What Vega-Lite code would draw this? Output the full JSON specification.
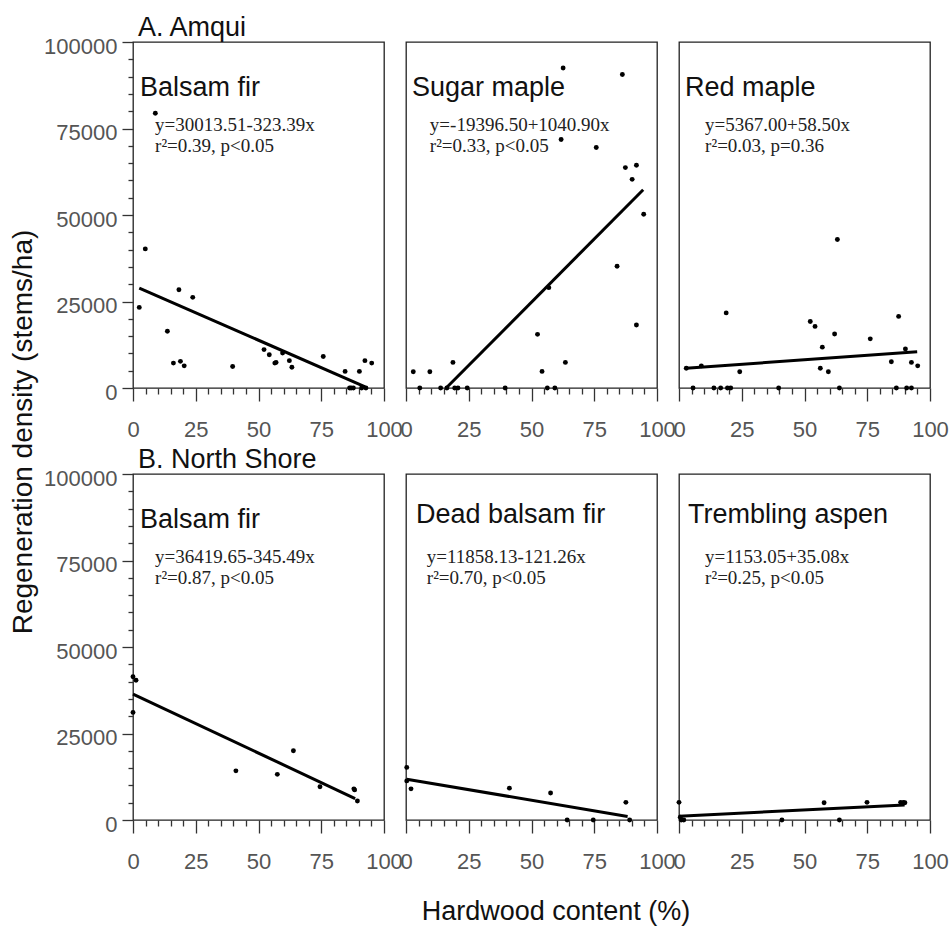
{
  "$schema": "https://vega.github.io/schema/vega-lite/v6.json",
  "background": "white",
  "padding": {"left": 8, "top": 13, "right": 5, "bottom": 5},
  "config": {
    "view": {"stroke": "#222", "strokeWidth": 1.3},
    "axis": {"domain": false, "grid": false, "labelFont": "Liberation Sans", "labelFontSize": 22, "labelColor": "#555", "tickColor": "#333", "tickWidth": 1.3, "labelFlush": false, "labelOverlap": false, "titleFont": "Liberation Sans", "titleFontSize": 27, "titleFontWeight": "normal", "titleColor": "#111"},
    "title": {"font": "Liberation Sans", "fontSize": 27, "fontWeight": "normal", "color": "#111", "anchor": "start", "frame": "group"}
  },
  "datasets": {
    "points": [
      {"p":"A1","x":2.5,"y":23300},{"p":"A1","x":4.9,"y":40200},{"p":"A1","x":8.9,"y":79400},{"p":"A1","x":13.7,"y":16400},{"p":"A1","x":16.1,"y":7200},{"p":"A1","x":18.3,"y":28400},{"p":"A1","x":18.9,"y":7700},{"p":"A1","x":20.4,"y":6400},{"p":"A1","x":23.8,"y":26200},{"p":"A1","x":39.7,"y":6200},{"p":"A1","x":52.2,"y":11100},{"p":"A1","x":54.3,"y":9600},{"p":"A1","x":56.5,"y":7200},{"p":"A1","x":57.0,"y":7400},{"p":"A1","x":59.6,"y":10100},{"p":"A1","x":62.3,"y":7900},{"p":"A1","x":63.3,"y":6000},{"p":"A1","x":75.8,"y":9100},{"p":"A1","x":84.5,"y":4800},{"p":"A1","x":86.3,"y":0},{"p":"A1","x":86.9,"y":0},{"p":"A1","x":87.8,"y":0},{"p":"A1","x":90.2,"y":4800},{"p":"A1","x":91.1,"y":0},{"p":"A1","x":92.4,"y":7900},{"p":"A1","x":92.8,"y":0},{"p":"A1","x":95.1,"y":7200},
      {"p":"A2","x":2.9,"y":4700},{"p":"A2","x":5.5,"y":0},{"p":"A2","x":9.5,"y":4700},{"p":"A2","x":13.8,"y":0},{"p":"A2","x":16.3,"y":0},{"p":"A2","x":18.7,"y":7400},{"p":"A2","x":19.4,"y":0},{"p":"A2","x":20.7,"y":0},{"p":"A2","x":24.4,"y":0},{"p":"A2","x":39.5,"y":0},{"p":"A2","x":52.4,"y":15500},{"p":"A2","x":54.2,"y":4800},{"p":"A2","x":56.3,"y":0},{"p":"A2","x":56.9,"y":29000},{"p":"A2","x":59.3,"y":0},{"p":"A2","x":61.8,"y":71800},{"p":"A2","x":62.6,"y":92500},{"p":"A2","x":63.5,"y":7400},{"p":"A2","x":75.8,"y":69500},{"p":"A2","x":84.1,"y":35200},{"p":"A2","x":86.2,"y":90600},{"p":"A2","x":87.4,"y":63700},{"p":"A2","x":90.1,"y":60300},{"p":"A2","x":91.8,"y":64400},{"p":"A2","x":91.8,"y":18200},{"p":"A2","x":94.7,"y":50200},
      {"p":"A3","x":2.9,"y":5700},{"p":"A3","x":5.6,"y":0},{"p":"A3","x":8.9,"y":6400},{"p":"A3","x":13.9,"y":0},{"p":"A3","x":16.6,"y":0},{"p":"A3","x":18.8,"y":21700},{"p":"A3","x":19.3,"y":0},{"p":"A3","x":20.6,"y":0},{"p":"A3","x":24.2,"y":4700},{"p":"A3","x":39.7,"y":0},{"p":"A3","x":52.3,"y":19200},{"p":"A3","x":54.2,"y":17800},{"p":"A3","x":56.3,"y":5700},{"p":"A3","x":57.1,"y":11800},{"p":"A3","x":59.5,"y":4700},{"p":"A3","x":62.0,"y":15600},{"p":"A3","x":63.1,"y":42900},{"p":"A3","x":63.9,"y":0},{"p":"A3","x":76.2,"y":14200},{"p":"A3","x":84.6,"y":7600},{"p":"A3","x":86.6,"y":0},{"p":"A3","x":87.5,"y":20700},{"p":"A3","x":90.2,"y":11300},{"p":"A3","x":90.7,"y":0},{"p":"A3","x":92.6,"y":0},{"p":"A3","x":92.6,"y":7400},{"p":"A3","x":95.1,"y":6400},
      {"p":"B1","x":0,"y":41400},{"p":"B1","x":1.2,"y":40400},{"p":"B1","x":0,"y":31100},{"p":"B1","x":41.0,"y":14200},{"p":"B1","x":57.5,"y":13200},{"p":"B1","x":63.9,"y":20000},{"p":"B1","x":74.5,"y":9600},{"p":"B1","x":88.0,"y":9000},{"p":"B1","x":88.3,"y":8700},{"p":"B1","x":89.4,"y":5500},
      {"p":"B2","x":0.3,"y":15200},{"p":"B2","x":0.3,"y":11300},{"p":"B2","x":2.0,"y":9000},{"p":"B2","x":41.2,"y":9200},{"p":"B2","x":57.6,"y":7800},{"p":"B2","x":64.2,"y":0},{"p":"B2","x":74.6,"y":0},{"p":"B2","x":87.6,"y":5100},{"p":"B2","x":89.1,"y":0},
      {"p":"B3","x":0,"y":5100},{"p":"B3","x":0.9,"y":0},{"p":"B3","x":1.9,"y":0},{"p":"B3","x":0.5,"y":800},{"p":"B3","x":41.0,"y":0},{"p":"B3","x":57.8,"y":5000},{"p":"B3","x":63.9,"y":0},{"p":"B3","x":74.9,"y":5100},{"p":"B3","x":88.3,"y":5100},{"p":"B3","x":89.4,"y":5100},{"p":"B3","x":90.0,"y":5000}
    ],
    "fits": [
      {"p":"A1","x":2.5,"y":28900},{"p":"A1","x":92.5,"y":300},
      {"p":"A2","x":16.0,"y":0},{"p":"A2","x":94.5,"y":57300},
      {"p":"A3","x":2.8,"y":5700},{"p":"A3","x":94.9,"y":10500},
      {"p":"B1","x":0,"y":36400},{"p":"B1","x":88.5,"y":6200},
      {"p":"B2","x":0.3,"y":11800},{"p":"B2","x":88.3,"y":1000},
      {"p":"B3","x":0,"y":1100},{"p":"B3","x":89.9,"y":4300}
    ],
    "labels": [
      {"p":"A1","species":"Balsam fir","lines":["y=30013.51-323.39x","r²=0.39, p<0.05"]},
      {"p":"A2","species":"Sugar maple","lines":["y=-19396.50+1040.90x","r²=0.33, p<0.05"]},
      {"p":"A3","species":"Red maple","lines":["y=5367.00+58.50x","r²=0.03, p=0.36"]},
      {"p":"B1","species":"Balsam fir","lines":["y=36419.65-345.49x","r²=0.87, p<0.05"]},
      {"p":"B2","species":"Dead balsam fir","lines":["y=11858.13-121.26x","r²=0.70, p<0.05"]},
      {"p":"B3","species":"Trembling aspen","lines":["y=1153.05+35.08x","r²=0.25, p<0.05"]}
    ]
  },
  "columns": 3,
  "spacing": {"row": 86, "column": 22},
  "bounds": "flush",
  "concat": [
    {
      "width": 251, "height": 346,
      "title": {"text": "A. Amqui", "dx": 5, "offset": -28, "baseline": "alphabetic"},
      "layer": [
        {"data": {"name": "points"}, "transform": [{"filter": "datum.p === 'A1'"}], "mark": {"type": "circle", "size": 24, "color": "#000", "opacity": 1},
         "encoding": {
            "x": {"field": "x", "type": "quantitative", "scale": {"domain": [0, 100]}, "axis": {"title": null, "values": [0,5,10,15,20,25,30,35,40,45,50,55,60,65,70,75,80,85,90,95,100], "labelExpr": "datum.value % 25 === 0 ? datum.label : ''", "tickSize": {"condition": {"test": "datum.value % 25 === 0", "value": 13}, "value": 6}, "labelPadding": 18}},
            "y": {"field": "y", "type": "quantitative", "scale": {"domain": [0, 100000]}, "axis": {"title": "Regeneration density (stems/ha)", "titleFontSize": 28, "titleX": -109.5, "titleY": 389.5, "titleBaseline": "middle", "titleAlign": "center", "format": "d", "values": [0,5000,10000,15000,20000,25000,30000,35000,40000,45000,50000,55000,60000,65000,70000,75000,80000,85000,90000,95000,100000], "labelExpr": "datum.value % 25000 === 0 ? datum.label : ''", "tickSize": {"condition": {"test": "datum.value % 25000 === 0", "value": 11}, "value": 5}, "labelPadding": 5, "labelOffset": 4}}
         }},
        {"data": {"name": "fits"}, "transform": [{"filter": "datum.p === 'A1'"}], "mark": {"type": "line", "color": "#000", "strokeWidth": 3},
         "encoding": {
            "x": {"field": "x", "type": "quantitative", "scale": {"domain": [0, 100]}, "axis": {"title": null, "values": [0,5,10,15,20,25,30,35,40,45,50,55,60,65,70,75,80,85,90,95,100], "labelExpr": "datum.value % 25 === 0 ? datum.label : ''", "tickSize": {"condition": {"test": "datum.value % 25 === 0", "value": 13}, "value": 6}, "labelPadding": 18}},
            "y": {"field": "y", "type": "quantitative", "scale": {"domain": [0, 100000]}, "axis": {"title": "Regeneration density (stems/ha)", "titleFontSize": 28, "titleX": -109.5, "titleY": 389.5, "titleBaseline": "middle", "titleAlign": "center", "format": "d", "values": [0,5000,10000,15000,20000,25000,30000,35000,40000,45000,50000,55000,60000,65000,70000,75000,80000,85000,90000,95000,100000], "labelExpr": "datum.value % 25000 === 0 ? datum.label : ''", "tickSize": {"condition": {"test": "datum.value % 25000 === 0", "value": 11}, "value": 5}, "labelPadding": 5, "labelOffset": 4}}
         }},
        {"data": {"name": "labels"}, "transform": [{"filter": "datum.p === 'A1'"}], "mark": {"type": "text", "align": "left", "baseline": "middle", "font": "Liberation Sans", "fontSize": 27, "color": "#111"},
         "encoding": {
            "x": {"datum": 2.8, "type": "quantitative", "scale": {"domain": [0, 100]}, "axis": {"title": null, "values": [0,5,10,15,20,25,30,35,40,45,50,55,60,65,70,75,80,85,90,95,100], "labelExpr": "datum.value % 25 === 0 ? datum.label : ''", "tickSize": {"condition": {"test": "datum.value % 25 === 0", "value": 13}, "value": 6}, "labelPadding": 18}},
            "y": {"datum": 86700, "type": "quantitative", "scale": {"domain": [0, 100000]}, "axis": {"title": "Regeneration density (stems/ha)", "titleFontSize": 28, "titleX": -109.5, "titleY": 389.5, "titleBaseline": "middle", "titleAlign": "center", "format": "d", "values": [0,5000,10000,15000,20000,25000,30000,35000,40000,45000,50000,55000,60000,65000,70000,75000,80000,85000,90000,95000,100000], "labelExpr": "datum.value % 25000 === 0 ? datum.label : ''", "tickSize": {"condition": {"test": "datum.value % 25000 === 0", "value": 11}, "value": 5}, "labelPadding": 5, "labelOffset": 4}},
            "text": {"field": "species"}}},
        {"data": {"name": "labels"}, "transform": [{"filter": "datum.p === 'A1'"}], "mark": {"type": "text", "align": "left", "baseline": "alphabetic", "lineHeight": 21, "font": "Liberation Serif", "fontSize": 19, "color": "#222"},
         "encoding": {
            "x": {"datum": 8.8, "type": "quantitative", "scale": {"domain": [0, 100]}, "axis": {"title": null, "values": [0,5,10,15,20,25,30,35,40,45,50,55,60,65,70,75,80,85,90,95,100], "labelExpr": "datum.value % 25 === 0 ? datum.label : ''", "tickSize": {"condition": {"test": "datum.value % 25 === 0", "value": 13}, "value": 6}, "labelPadding": 18}},
            "y": {"datum": 74300, "type": "quantitative", "scale": {"domain": [0, 100000]}, "axis": {"title": "Regeneration density (stems/ha)", "titleFontSize": 28, "titleX": -109.5, "titleY": 389.5, "titleBaseline": "middle", "titleAlign": "center", "format": "d", "values": [0,5000,10000,15000,20000,25000,30000,35000,40000,45000,50000,55000,60000,65000,70000,75000,80000,85000,90000,95000,100000], "labelExpr": "datum.value % 25000 === 0 ? datum.label : ''", "tickSize": {"condition": {"test": "datum.value % 25000 === 0", "value": 11}, "value": 5}, "labelPadding": 5, "labelOffset": 4}},
            "text": {"field": "lines"}}}
      ]
    },
    {
      "width": 251, "height": 346,
      "layer": [
        {"data": {"name": "points"}, "transform": [{"filter": "datum.p === 'A2'"}], "mark": {"type": "circle", "size": 24, "color": "#000", "opacity": 1},
         "encoding": {
            "x": {"field": "x", "type": "quantitative", "scale": {"domain": [0, 100]}, "axis": {"title": null, "values": [0,5,10,15,20,25,30,35,40,45,50,55,60,65,70,75,80,85,90,95,100], "labelExpr": "datum.value % 25 === 0 ? datum.label : ''", "tickSize": {"condition": {"test": "datum.value % 25 === 0", "value": 13}, "value": 6}, "labelPadding": 18}},
            "y": {"field": "y", "type": "quantitative", "scale": {"domain": [0, 100000]}, "axis": null}}},
        {"data": {"name": "fits"}, "transform": [{"filter": "datum.p === 'A2'"}], "mark": {"type": "line", "color": "#000", "strokeWidth": 3},
         "encoding": {
            "x": {"field": "x", "type": "quantitative", "scale": {"domain": [0, 100]}, "axis": {"title": null, "values": [0,5,10,15,20,25,30,35,40,45,50,55,60,65,70,75,80,85,90,95,100], "labelExpr": "datum.value % 25 === 0 ? datum.label : ''", "tickSize": {"condition": {"test": "datum.value % 25 === 0", "value": 13}, "value": 6}, "labelPadding": 18}},
            "y": {"field": "y", "type": "quantitative", "scale": {"domain": [0, 100000]}, "axis": null}}},
        {"data": {"name": "labels"}, "transform": [{"filter": "datum.p === 'A2'"}], "mark": {"type": "text", "align": "left", "baseline": "middle", "font": "Liberation Sans", "fontSize": 27, "color": "#111"},
         "encoding": {
            "x": {"datum": 2.4, "type": "quantitative", "scale": {"domain": [0, 100]}, "axis": {"title": null, "values": [0,5,10,15,20,25,30,35,40,45,50,55,60,65,70,75,80,85,90,95,100], "labelExpr": "datum.value % 25 === 0 ? datum.label : ''", "tickSize": {"condition": {"test": "datum.value % 25 === 0", "value": 13}, "value": 6}, "labelPadding": 18}},
            "y": {"datum": 86700, "type": "quantitative", "scale": {"domain": [0, 100000]}, "axis": null},
            "text": {"field": "species"}}},
        {"data": {"name": "labels"}, "transform": [{"filter": "datum.p === 'A2'"}], "mark": {"type": "text", "align": "left", "baseline": "alphabetic", "lineHeight": 21, "font": "Liberation Serif", "fontSize": 19, "color": "#222"},
         "encoding": {
            "x": {"datum": 9.5, "type": "quantitative", "scale": {"domain": [0, 100]}, "axis": {"title": null, "values": [0,5,10,15,20,25,30,35,40,45,50,55,60,65,70,75,80,85,90,95,100], "labelExpr": "datum.value % 25 === 0 ? datum.label : ''", "tickSize": {"condition": {"test": "datum.value % 25 === 0", "value": 13}, "value": 6}, "labelPadding": 18}},
            "y": {"datum": 74300, "type": "quantitative", "scale": {"domain": [0, 100000]}, "axis": null},
            "text": {"field": "lines"}}}
      ]
    },
    {
      "width": 251, "height": 346,
      "layer": [
        {"data": {"name": "points"}, "transform": [{"filter": "datum.p === 'A3'"}], "mark": {"type": "circle", "size": 24, "color": "#000", "opacity": 1},
         "encoding": {
            "x": {"field": "x", "type": "quantitative", "scale": {"domain": [0, 100]}, "axis": {"title": null, "values": [0,5,10,15,20,25,30,35,40,45,50,55,60,65,70,75,80,85,90,95,100], "labelExpr": "datum.value % 25 === 0 ? datum.label : ''", "tickSize": {"condition": {"test": "datum.value % 25 === 0", "value": 13}, "value": 6}, "labelPadding": 18}},
            "y": {"field": "y", "type": "quantitative", "scale": {"domain": [0, 100000]}, "axis": null}}},
        {"data": {"name": "fits"}, "transform": [{"filter": "datum.p === 'A3'"}], "mark": {"type": "line", "color": "#000", "strokeWidth": 3},
         "encoding": {
            "x": {"field": "x", "type": "quantitative", "scale": {"domain": [0, 100]}, "axis": {"title": null, "values": [0,5,10,15,20,25,30,35,40,45,50,55,60,65,70,75,80,85,90,95,100], "labelExpr": "datum.value % 25 === 0 ? datum.label : ''", "tickSize": {"condition": {"test": "datum.value % 25 === 0", "value": 13}, "value": 6}, "labelPadding": 18}},
            "y": {"field": "y", "type": "quantitative", "scale": {"domain": [0, 100000]}, "axis": null}}},
        {"data": {"name": "labels"}, "transform": [{"filter": "datum.p === 'A3'"}], "mark": {"type": "text", "align": "left", "baseline": "middle", "font": "Liberation Sans", "fontSize": 27, "color": "#111"},
         "encoding": {
            "x": {"datum": 2.4, "type": "quantitative", "scale": {"domain": [0, 100]}, "axis": {"title": null, "values": [0,5,10,15,20,25,30,35,40,45,50,55,60,65,70,75,80,85,90,95,100], "labelExpr": "datum.value % 25 === 0 ? datum.label : ''", "tickSize": {"condition": {"test": "datum.value % 25 === 0", "value": 13}, "value": 6}, "labelPadding": 18}},
            "y": {"datum": 86700, "type": "quantitative", "scale": {"domain": [0, 100000]}, "axis": null},
            "text": {"field": "species"}}},
        {"data": {"name": "labels"}, "transform": [{"filter": "datum.p === 'A3'"}], "mark": {"type": "text", "align": "left", "baseline": "alphabetic", "lineHeight": 21, "font": "Liberation Serif", "fontSize": 19, "color": "#222"},
         "encoding": {
            "x": {"datum": 10.4, "type": "quantitative", "scale": {"domain": [0, 100]}, "axis": {"title": null, "values": [0,5,10,15,20,25,30,35,40,45,50,55,60,65,70,75,80,85,90,95,100], "labelExpr": "datum.value % 25 === 0 ? datum.label : ''", "tickSize": {"condition": {"test": "datum.value % 25 === 0", "value": 13}, "value": 6}, "labelPadding": 18}},
            "y": {"datum": 74300, "type": "quantitative", "scale": {"domain": [0, 100000]}, "axis": null},
            "text": {"field": "lines"}}}
      ]
    },
    {
      "width": 251, "height": 346,
      "title": {"text": "B. North Shore", "dx": 5, "offset": -28, "baseline": "alphabetic"},
      "layer": [
        {"data": {"name": "points"}, "transform": [{"filter": "datum.p === 'B1'"}], "mark": {"type": "circle", "size": 24, "color": "#000", "opacity": 1},
         "encoding": {
            "x": {"field": "x", "type": "quantitative", "scale": {"domain": [0, 100]}, "axis": {"title": null, "values": [0,5,10,15,20,25,30,35,40,45,50,55,60,65,70,75,80,85,90,95,100], "labelExpr": "datum.value % 25 === 0 ? datum.label : ''", "tickSize": {"condition": {"test": "datum.value % 25 === 0", "value": 13}, "value": 6}, "labelPadding": 18}},
            "y": {"field": "y", "type": "quantitative", "scale": {"domain": [0, 100000]}, "axis": {"title": null, "format": "d", "values": [0,5000,10000,15000,20000,25000,30000,35000,40000,45000,50000,55000,60000,65000,70000,75000,80000,85000,90000,95000,100000], "labelExpr": "datum.value % 25000 === 0 ? datum.label : ''", "tickSize": {"condition": {"test": "datum.value % 25000 === 0", "value": 11}, "value": 5}, "labelPadding": 5, "labelOffset": 4}}}},
        {"data": {"name": "fits"}, "transform": [{"filter": "datum.p === 'B1'"}], "mark": {"type": "line", "color": "#000", "strokeWidth": 3},
         "encoding": {
            "x": {"field": "x", "type": "quantitative", "scale": {"domain": [0, 100]}, "axis": {"title": null, "values": [0,5,10,15,20,25,30,35,40,45,50,55,60,65,70,75,80,85,90,95,100], "labelExpr": "datum.value % 25 === 0 ? datum.label : ''", "tickSize": {"condition": {"test": "datum.value % 25 === 0", "value": 13}, "value": 6}, "labelPadding": 18}},
            "y": {"field": "y", "type": "quantitative", "scale": {"domain": [0, 100000]}, "axis": {"title": null, "format": "d", "values": [0,5000,10000,15000,20000,25000,30000,35000,40000,45000,50000,55000,60000,65000,70000,75000,80000,85000,90000,95000,100000], "labelExpr": "datum.value % 25000 === 0 ? datum.label : ''", "tickSize": {"condition": {"test": "datum.value % 25000 === 0", "value": 11}, "value": 5}, "labelPadding": 5, "labelOffset": 4}}}},
        {"data": {"name": "labels"}, "transform": [{"filter": "datum.p === 'B1'"}], "mark": {"type": "text", "align": "left", "baseline": "middle", "font": "Liberation Sans", "fontSize": 27, "color": "#111"},
         "encoding": {
            "x": {"datum": 2.8, "type": "quantitative", "scale": {"domain": [0, 100]}, "axis": {"title": null, "values": [0,5,10,15,20,25,30,35,40,45,50,55,60,65,70,75,80,85,90,95,100], "labelExpr": "datum.value % 25 === 0 ? datum.label : ''", "tickSize": {"condition": {"test": "datum.value % 25 === 0", "value": 13}, "value": 6}, "labelPadding": 18}},
            "y": {"datum": 86700, "type": "quantitative", "scale": {"domain": [0, 100000]}, "axis": {"title": null, "format": "d", "values": [0,5000,10000,15000,20000,25000,30000,35000,40000,45000,50000,55000,60000,65000,70000,75000,80000,85000,90000,95000,100000], "labelExpr": "datum.value % 25000 === 0 ? datum.label : ''", "tickSize": {"condition": {"test": "datum.value % 25000 === 0", "value": 11}, "value": 5}, "labelPadding": 5, "labelOffset": 4}},
            "text": {"field": "species"}}},
        {"data": {"name": "labels"}, "transform": [{"filter": "datum.p === 'B1'"}], "mark": {"type": "text", "align": "left", "baseline": "alphabetic", "lineHeight": 21, "font": "Liberation Serif", "fontSize": 19, "color": "#222"},
         "encoding": {
            "x": {"datum": 8.8, "type": "quantitative", "scale": {"domain": [0, 100]}, "axis": {"title": null, "values": [0,5,10,15,20,25,30,35,40,45,50,55,60,65,70,75,80,85,90,95,100], "labelExpr": "datum.value % 25 === 0 ? datum.label : ''", "tickSize": {"condition": {"test": "datum.value % 25 === 0", "value": 13}, "value": 6}, "labelPadding": 18}},
            "y": {"datum": 74300, "type": "quantitative", "scale": {"domain": [0, 100000]}, "axis": {"title": null, "format": "d", "values": [0,5000,10000,15000,20000,25000,30000,35000,40000,45000,50000,55000,60000,65000,70000,75000,80000,85000,90000,95000,100000], "labelExpr": "datum.value % 25000 === 0 ? datum.label : ''", "tickSize": {"condition": {"test": "datum.value % 25000 === 0", "value": 11}, "value": 5}, "labelPadding": 5, "labelOffset": 4}},
            "text": {"field": "lines"}}}
      ]
    },
    {
      "width": 251, "height": 346,
      "layer": [
        {"data": {"name": "points"}, "transform": [{"filter": "datum.p === 'B2'"}], "mark": {"type": "circle", "size": 24, "color": "#000", "opacity": 1},
         "encoding": {
            "x": {"field": "x", "type": "quantitative", "scale": {"domain": [0, 100]}, "axis": {"title": "Hardwood content (%)", "titleX": 149.5, "titleY": 99.5, "titleBaseline": "alphabetic", "titleAlign": "center", "values": [0,5,10,15,20,25,30,35,40,45,50,55,60,65,70,75,80,85,90,95,100], "labelExpr": "datum.value % 25 === 0 ? datum.label : ''", "tickSize": {"condition": {"test": "datum.value % 25 === 0", "value": 13}, "value": 6}, "labelPadding": 18}},
            "y": {"field": "y", "type": "quantitative", "scale": {"domain": [0, 100000]}, "axis": null}}},
        {"data": {"name": "fits"}, "transform": [{"filter": "datum.p === 'B2'"}], "mark": {"type": "line", "color": "#000", "strokeWidth": 3},
         "encoding": {
            "x": {"field": "x", "type": "quantitative", "scale": {"domain": [0, 100]}, "axis": {"title": "Hardwood content (%)", "titleX": 149.5, "titleY": 99.5, "titleBaseline": "alphabetic", "titleAlign": "center", "values": [0,5,10,15,20,25,30,35,40,45,50,55,60,65,70,75,80,85,90,95,100], "labelExpr": "datum.value % 25 === 0 ? datum.label : ''", "tickSize": {"condition": {"test": "datum.value % 25 === 0", "value": 13}, "value": 6}, "labelPadding": 18}},
            "y": {"field": "y", "type": "quantitative", "scale": {"domain": [0, 100000]}, "axis": null}}},
        {"data": {"name": "labels"}, "transform": [{"filter": "datum.p === 'B2'"}], "mark": {"type": "text", "align": "left", "baseline": "middle", "font": "Liberation Sans", "fontSize": 27, "color": "#111"},
         "encoding": {
            "x": {"datum": 4.0, "type": "quantitative", "scale": {"domain": [0, 100]}, "axis": {"title": "Hardwood content (%)", "titleX": 149.5, "titleY": 99.5, "titleBaseline": "alphabetic", "titleAlign": "center", "values": [0,5,10,15,20,25,30,35,40,45,50,55,60,65,70,75,80,85,90,95,100], "labelExpr": "datum.value % 25 === 0 ? datum.label : ''", "tickSize": {"condition": {"test": "datum.value % 25 === 0", "value": 13}, "value": 6}, "labelPadding": 18}},
            "y": {"datum": 88100, "type": "quantitative", "scale": {"domain": [0, 100000]}, "axis": null},
            "text": {"field": "species"}}},
        {"data": {"name": "labels"}, "transform": [{"filter": "datum.p === 'B2'"}], "mark": {"type": "text", "align": "left", "baseline": "alphabetic", "lineHeight": 21, "font": "Liberation Serif", "fontSize": 19, "color": "#222"},
         "encoding": {
            "x": {"datum": 8.3, "type": "quantitative", "scale": {"domain": [0, 100]}, "axis": {"title": "Hardwood content (%)", "titleX": 149.5, "titleY": 99.5, "titleBaseline": "alphabetic", "titleAlign": "center", "values": [0,5,10,15,20,25,30,35,40,45,50,55,60,65,70,75,80,85,90,95,100], "labelExpr": "datum.value % 25 === 0 ? datum.label : ''", "tickSize": {"condition": {"test": "datum.value % 25 === 0", "value": 13}, "value": 6}, "labelPadding": 18}},
            "y": {"datum": 74300, "type": "quantitative", "scale": {"domain": [0, 100000]}, "axis": null},
            "text": {"field": "lines"}}}
      ]
    },
    {
      "width": 251, "height": 346,
      "layer": [
        {"data": {"name": "points"}, "transform": [{"filter": "datum.p === 'B3'"}], "mark": {"type": "circle", "size": 24, "color": "#000", "opacity": 1},
         "encoding": {
            "x": {"field": "x", "type": "quantitative", "scale": {"domain": [0, 100]}, "axis": {"title": null, "values": [0,5,10,15,20,25,30,35,40,45,50,55,60,65,70,75,80,85,90,95,100], "labelExpr": "datum.value % 25 === 0 ? datum.label : ''", "tickSize": {"condition": {"test": "datum.value % 25 === 0", "value": 13}, "value": 6}, "labelPadding": 18}},
            "y": {"field": "y", "type": "quantitative", "scale": {"domain": [0, 100000]}, "axis": null}}},
        {"data": {"name": "fits"}, "transform": [{"filter": "datum.p === 'B3'"}], "mark": {"type": "line", "color": "#000", "strokeWidth": 3},
         "encoding": {
            "x": {"field": "x", "type": "quantitative", "scale": {"domain": [0, 100]}, "axis": {"title": null, "values": [0,5,10,15,20,25,30,35,40,45,50,55,60,65,70,75,80,85,90,95,100], "labelExpr": "datum.value % 25 === 0 ? datum.label : ''", "tickSize": {"condition": {"test": "datum.value % 25 === 0", "value": 13}, "value": 6}, "labelPadding": 18}},
            "y": {"field": "y", "type": "quantitative", "scale": {"domain": [0, 100000]}, "axis": null}}},
        {"data": {"name": "labels"}, "transform": [{"filter": "datum.p === 'B3'"}], "mark": {"type": "text", "align": "left", "baseline": "middle", "font": "Liberation Sans", "fontSize": 27, "color": "#111"},
         "encoding": {
            "x": {"datum": 3.6, "type": "quantitative", "scale": {"domain": [0, 100]}, "axis": {"title": null, "values": [0,5,10,15,20,25,30,35,40,45,50,55,60,65,70,75,80,85,90,95,100], "labelExpr": "datum.value % 25 === 0 ? datum.label : ''", "tickSize": {"condition": {"test": "datum.value % 25 === 0", "value": 13}, "value": 6}, "labelPadding": 18}},
            "y": {"datum": 88100, "type": "quantitative", "scale": {"domain": [0, 100000]}, "axis": null},
            "text": {"field": "species"}}},
        {"data": {"name": "labels"}, "transform": [{"filter": "datum.p === 'B3'"}], "mark": {"type": "text", "align": "left", "baseline": "alphabetic", "lineHeight": 21, "font": "Liberation Serif", "fontSize": 19, "color": "#222"},
         "encoding": {
            "x": {"datum": 10.4, "type": "quantitative", "scale": {"domain": [0, 100]}, "axis": {"title": null, "values": [0,5,10,15,20,25,30,35,40,45,50,55,60,65,70,75,80,85,90,95,100], "labelExpr": "datum.value % 25 === 0 ? datum.label : ''", "tickSize": {"condition": {"test": "datum.value % 25 === 0", "value": 13}, "value": 6}, "labelPadding": 18}},
            "y": {"datum": 74300, "type": "quantitative", "scale": {"domain": [0, 100000]}, "axis": null},
            "text": {"field": "lines"}}}
      ]
    }
  ]
}
